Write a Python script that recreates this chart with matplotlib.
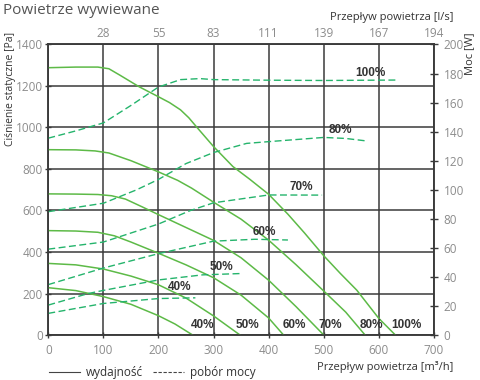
import matplotlib
matplotlib.use('Agg')
import matplotlib.pyplot as plt
from matplotlib.lines import Line2D

# pressure curves [Pa] vs flow [m3/h]
flow_100 = [0, 50, 90, 110, 130, 165, 200, 220, 240, 255, 270, 300, 335, 365, 400, 435, 465, 500, 530, 560, 600, 630]
pa_100 = [1288, 1291, 1291, 1283, 1252, 1196, 1148, 1120, 1085, 1047, 1000, 908, 812, 752, 678, 582, 492, 382, 297, 216, 80, 0]
flow_80 = [0, 50, 85, 110, 150, 200, 235, 260, 300, 350, 400, 450, 500, 540, 575]
pa_80 = [893, 892, 887, 877, 840, 786, 745, 708, 640, 558, 457, 338, 212, 110, 0]
flow_70 = [0, 50, 90, 115, 140, 170, 200, 250, 300, 350, 400, 450, 500]
pa_70 = [680, 679, 677, 671, 655, 618, 580, 518, 456, 372, 264, 136, 0]
flow_60 = [0, 50, 90, 120, 150, 200, 250, 300, 350, 400, 427]
pa_60 = [503, 501, 495, 478, 448, 394, 338, 276, 192, 82, 0]
flow_50 = [0, 50, 100, 150, 200, 250, 300, 348]
pa_50 = [345, 338, 318, 284, 242, 178, 92, 0]
flow_40 = [0, 50, 100, 150, 200, 230, 262]
pa_40 = [228, 214, 185, 148, 93, 53, 0]

# power curves [W]
pflow_100 = [0, 50, 100, 150, 200, 240, 275, 300, 400, 500, 630]
w_100 = [135.5, 140.5, 146, 158, 170.7, 175.8, 176.5, 175.8, 175.4, 175.2, 175.5]
pflow_80 = [0, 100, 160, 200, 250, 300, 360, 400, 500, 540, 575]
w_80 = [84.9, 90.7, 99.9, 107.1, 118, 125.6, 131.9, 133.1, 136, 135.3, 133.7]
pflow_70 = [0, 100, 200, 258, 300, 400, 497]
w_70 = [59.1, 64, 76.4, 85.7, 91, 96.4, 96.3]
pflow_60 = [0, 100, 200, 300, 375, 435]
w_60 = [34.7, 46.1, 56, 64.6, 65.9, 65.4]
pflow_50 = [0, 73, 100, 200, 280, 348]
w_50 = [20.6, 28.6, 30.7, 37.9, 41.4, 42.3]
pflow_40 = [0, 50, 100, 200, 267]
w_40 = [14.9, 18.3, 21.7, 25.1, 25.6]

x_ticks = [0, 100, 200, 300, 400, 500, 600, 700]
top_ticks = [100, 200, 300, 400, 500, 600, 700]
top_labels = ['28', '55', '83', '111', '139', '167', '194']

sans = ['Open Sans', 'DejaVu Sans']
green = '#5dba47'
dgreen = '#25b46c'
gridc = '#3a3a3a'
tickc = '#8c8c8c'

fig = plt.figure(figsize=(4.8, 3.8), dpi=100)
ax = fig.add_axes([0.1006, 0.1184, 0.8034, 0.7646])
ax2 = ax.twinx()

for f, p in [(flow_100, pa_100), (flow_80, pa_80), (flow_70, pa_70),
             (flow_60, pa_60), (flow_50, pa_50), (flow_40, pa_40)]:
    ax.plot(f, p, color=green, lw=1.1, zorder=3)

for f, w in [(pflow_100, w_100), (pflow_80, w_80), (pflow_70, w_70),
             (pflow_60, w_60), (pflow_50, w_50), (pflow_40, w_40)]:
    ax2.plot(f, w, color=dgreen, lw=1.0, dashes=(5, 2.5))

ax.set_xlim(0, 700)
ax.set_ylim(0, 1400)
ax2.set_ylim(0, 200)
ax.set_xticks(x_ticks)
ax.set_yticks(range(0, 1401, 200))
ax2.set_yticks(range(0, 201, 20))
ax.grid(True, color=gridc, lw=1.1)
ax.set_axisbelow(True)

for a in (ax, ax2):
    for s in a.spines.values():
        s.set_color(gridc)
        s.set_linewidth(1.1)
ax.tick_params(axis='both', direction='inout', length=5, width=1, color=gridc,
               labelcolor=tickc, labelsize=8.5)
ax.tick_params(axis='x', pad=4)
ax.tick_params(axis='y', pad=1.5)
ax2.tick_params(axis='y', direction='inout', length=6, width=1, color=gridc,
                labelcolor=tickc, labelsize=8.5, pad=4)
for lab in ax.get_xticklabels() + ax.get_yticklabels() + ax2.get_yticklabels():
    lab.set_family(sans)

# top axis in l/s
ax3 = ax.twiny()
ax3.set_xlim(0, 700)
ax3.set_xticks(top_ticks)
ax3.set_xticklabels(top_labels, family=sans)
ax3.tick_params(axis='x', length=0, labelcolor=tickc, labelsize=8.5, pad=3)
for s in ax3.spines.values():
    s.set_visible(False)

# curve labels
lab_kw = dict(fontsize=8.5, fontweight='bold', color='#333333', va='center', ha='left',
              family=['Liberation Sans', 'DejaVu Sans'])
for x, t in [(258, '40%'), (340, '50%'), (425, '60%'), (490, '70%'), (565, '80%'), (622, '100%')]:
    ax.text(x, 48, t, **lab_kw)
for x, y, t in [(217, 230, '40%'), (292, 329, '50%'), (371, 498, '60%'),
                (437, 714, '70%'), (508, 988, '80%'), (558, 1261, '100%')]:
    ax.text(x, y, t, **lab_kw)

fig.text(0.006, 0.972, 'Powietrze wywiewane', family=sans, fontsize=11, color='#555555',
         va='center', ha='left')
fig.text(0.944, 0.955, 'Przepływ powietrza [l/s]', family=sans, fontsize=8, color='#333333',
         va='center', ha='right')
fig.text(0.944, 0.035, 'Przepływ powietrza [m³/h]', family=sans, fontsize=8, color='#333333',
         va='center', ha='right')
fig.text(0.021, 0.915, 'Ciśnienie statyczne [Pa]', family=sans, fontsize=7.5, color='#333333',
         rotation=90, va='top', ha='center')
fig.text(0.979, 0.915, 'Moc [W]', family=sans, fontsize=8, color='#333333',
         rotation=90, va='top', ha='center')

handles = [Line2D([], [], color='#444444', lw=0.8),
           Line2D([], [], color='#444444', lw=0.8, dashes=(3, 1.5))]
fig.legend(handles, ['wydajność', 'pobór mocy'], loc='center left',
           bbox_to_anchor=(0.08, 0.02), ncol=2, frameon=False, handlelength=2.6,
           handletextpad=0.5, columnspacing=0.9, prop={'family': sans, 'size': 8.5},
           labelcolor='#333333')

fig.savefig('out.png', dpi=100)
